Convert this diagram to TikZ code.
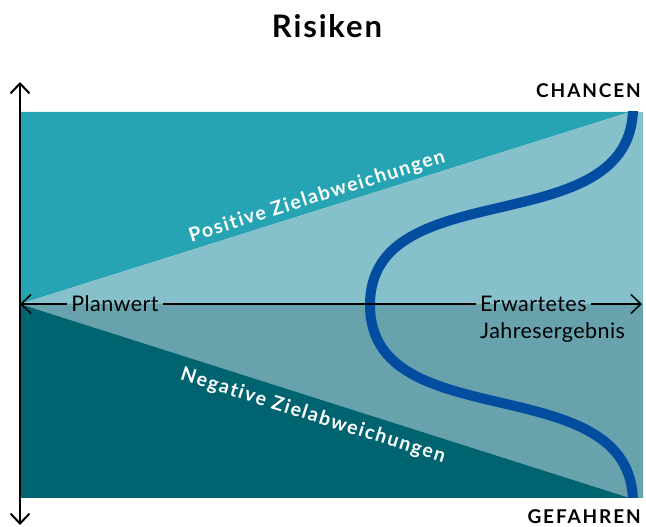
\documentclass[tikz,border=0pt]{standalone}
\usepackage{fontspec}
\setmainfont{Lato}
\usetikzlibrary{arrows.meta,positioning}

\definecolor{tuerkis}{HTML}{27A4B3}
\definecolor{hellblau}{HTML}{86C1CB}
\definecolor{graublau}{HTML}{67A2AD}
\definecolor{petrol}{HTML}{006370}
\definecolor{kurvenblau}{HTML}{024DA0}

\tikzset{
  spitze/.tip={Straight Barb[length=10pt,width=19pt]},
  achse/.style={line width=1.5pt},
  beschr/.style={font=\fontsize{21.5}{24}\selectfont\addfontfeatures{LetterSpace=2}, inner sep=4pt},
  zone/.style={font=\bfseries\fontsize{19.5}{22}\selectfont\addfontfeatures{LetterSpace=8,Ligatures=NoCommon}, text=white, inner sep=0pt},
  pol/.style={font=\bfseries\fontsize{19}{20}\selectfont\addfontfeatures{LetterSpace=10}, anchor=east, inner sep=0pt}
}

\begin{document}
\begin{tikzpicture}[x=1pt,y=1pt]
    \useasboundingbox (0,0) rectangle (646,527);

    \fill[tuerkis] (20,415) -- (630,415) -- (20,223) -- cycle;
    \fill[hellblau] (20,223) -- (630,415) -- (643,415) -- (643,223) -- cycle;
    \fill[graublau] (20,223) -- (643,223) -- (643,29) -- (630,29) -- cycle;
    \fill[petrol] (20,223) -- (630,29) -- (20,29) -- cycle;

    \begin{scope}
    \clip (20,29) rectangle (643,415);
    \draw[kurvenblau, line width=10pt] (633,420) .. controls (633,282) and (370,357) .. (370,222)
        .. controls (370,87) and (633,162) .. (633,24);
    \end{scope}

    \node[font=\bfseries\fontsize{31}{34}\selectfont\addfontfeatures{LetterSpace=6}] (titel) at (327,501) {Risiken};
    \node[pol] (chancen) at (641,436) {CHANCEN};
    \node[pol] (gefahren) at (641,10) {GEFAHREN};

    \node[zone, rotate=17.5] (pos) at (317,330) {Positive Zielabweichungen};
    \node[zone, rotate=-17.5] (neg) at (313,111) {Negative Zielabweichungen};

    \node[beschr] (plan) at (115,223) {Planwert};
    \node[beschr, anchor=west] (erw) at (476,223) {Erwartetes};
    \node[beschr, below=2pt of erw.south west, anchor=north west] (jahr) {Jahresergebnis};

    \coordinate (oben) at (20,445);
    \coordinate (unten) at (20,2);
    \coordinate (links) at (20,223);
    \coordinate (rechts) at (642,223);

    \draw[line width=2pt, spitze-spitze] (unten) -- (oben);
    \draw[achse, spitze-] (links) -- (plan);
    \draw[achse] (plan) -- (erw);
    \draw[achse, -spitze] (erw) -- (rechts);
\end{tikzpicture}
\end{document}
